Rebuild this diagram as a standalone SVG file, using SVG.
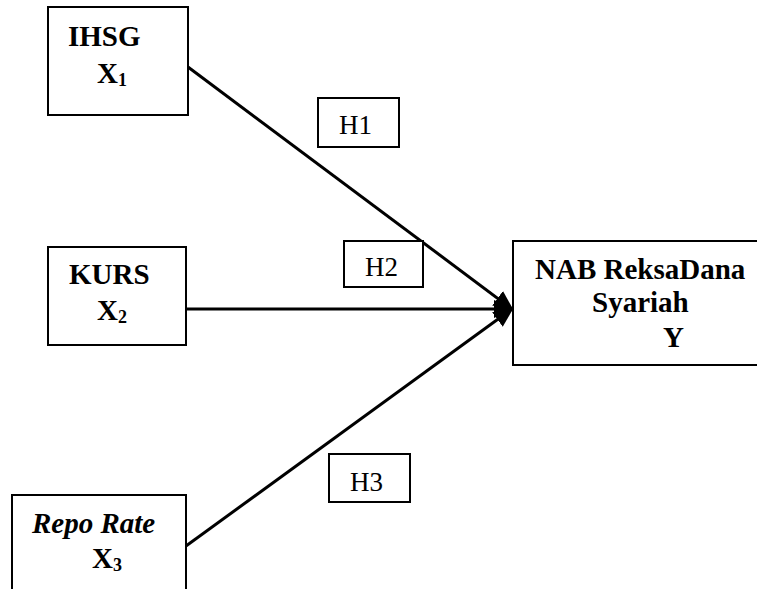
<svg xmlns="http://www.w3.org/2000/svg" width="757" height="589" viewBox="0 0 757 589">
<style>
.box{fill:#fff;stroke:#000;stroke-width:2}
.lbl{font-family:"Liberation Serif","Times New Roman",serif;font-size:29px;font-weight:bold;fill:#000}
.sub{font-size:18px}
.h{font-family:"Liberation Serif","Times New Roman",serif;font-size:27px;fill:#000}
.con{stroke:#000;stroke-width:3;fill:none}
</style>
<defs>
<marker id="ah" markerUnits="userSpaceOnUse" markerWidth="20" markerHeight="20" viewBox="0 0 20 20" refX="18" refY="10" orient="auto">
<path d="M0,1 L20,10 L0,19 z" fill="#000"/>
</marker>
</defs>
<rect width="757" height="589" fill="#fff"/>
<g id="connectors">
<line class="con" x1="188" y1="67" x2="512" y2="309" marker-end="url(#ah)"/>
<line class="con" x1="186" y1="309" x2="512" y2="309" marker-end="url(#ah)"/>
<line class="con" x1="186" y1="546" x2="512" y2="309" marker-end="url(#ah)"/>
</g>
<g id="ihsg">
<rect class="box" x="48" y="7" width="140" height="108"/>
<text class="lbl" x="68" y="46">IHSG</text>
<text class="lbl" x="97" y="83">X<tspan class="sub" dy="3">1</tspan></text>
</g>
<g id="kurs">
<rect class="box" x="48" y="247" width="138" height="98"/>
<text class="lbl" x="69" y="284">KURS</text>
<text class="lbl" x="97" y="320">X<tspan class="sub" dy="3">2</tspan></text>
</g>
<g id="repo">
<rect class="box" x="12" y="495" width="174" height="110"/>
<text class="lbl" x="32" y="533" font-style="italic">Repo Rate</text>
<text class="lbl" x="92" y="568">X<tspan class="sub" dy="3">3</tspan></text>
</g>
<g id="nab">
<rect class="box" x="513" y="241" width="260" height="124"/>
<text class="lbl" x="535" y="279">NAB ReksaDana</text>
<text class="lbl" x="592" y="312">Syariah</text>
<text class="lbl" x="663" y="347">Y</text>
</g>
<g id="h1">
<rect class="box" x="318" y="98" width="81" height="49"/>
<text class="h" x="339" y="134">H1</text>
</g>
<g id="h2">
<rect class="box" x="344" y="241" width="79" height="46"/>
<text class="h" x="365" y="276">H2</text>
</g>
<g id="h3">
<rect class="box" x="329" y="454" width="81" height="48"/>
<text class="h" x="350" y="491">H3</text>
</g>
</svg>
